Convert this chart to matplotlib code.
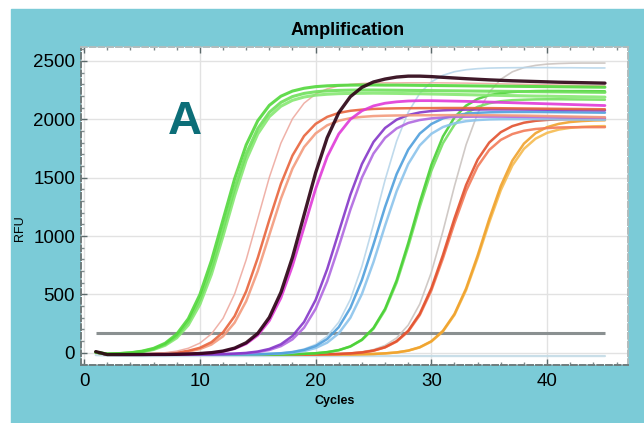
import matplotlib
matplotlib.use("Agg")
import matplotlib.pyplot as plt
from matplotlib.patches import Rectangle
from matplotlib.ticker import MultipleLocator

plt.rcParams['font.family'] = ['Liberation Sans', 'DejaVu Sans']

# cycle numbers
cycles = list(range(1, 46))

# RFU readings per cycle (one list per visible curve)
green1_hi = [5, -11, -7, 0, 14, 38, 82, 160, 292, 499,
             790, 1140, 1490, 1781, 1988, 2120, 2198, 2242, 2266, 2280,
             2287, 2291, 2293, 2294,
             2294, 2293, 2293, 2292, 2291, 2290, 2289, 2288, 2287, 2286, 2285,
             2284, 2283, 2282, 2281, 2280, 2279, 2278, 2277, 2276, 2275]
green1_mid = [5, -11, -7, -1, 11, 33, 73, 144, 266, 456,
              722, 1060, 1408, 1705, 1920, 2060, 2145, 2195, 2222, 2236,
              2244, 2248, 2250, 2251,
              2251, 2250, 2249, 2248, 2247, 2246, 2245, 2244, 2243, 2242, 2241,
              2240, 2239, 2238, 2237, 2236, 2235, 2234, 2233, 2232, 2231]
green1_lo = [5, -11, -8, -3, 8, 28, 64, 128, 238, 415,
             673, 1000, 1346, 1650, 1875, 2023, 2112, 2163, 2191, 2207,
             2215, 2220, 2222, 2223,
             2224, 2223, 2222, 2220, 2219, 2217, 2215, 2213, 2211, 2209, 2207,
             2205, 2203, 2201, 2199, 2198, 2196, 2195, 2193, 2192, 2190]
salmon_hi = [5, -15, -14, -14, -12, -10, -6, 2, 17, 43,
             91, 175, 314, 527, 813, 1139, 1447, 1690, 1857, 1961,
             2021, 2055, 2073, 2083, 2089, 2092,
             2094, 2095, 2096, 2096, 2097, 2097, 2097, 2096, 2096, 2095,
             2094, 2093, 2092, 2091, 2090, 2089, 2088, 2087, 2086]
salmon_lo = [5, -15, -14, -14, -13, -11, -8, -1, 10, 32,
             71, 141, 258, 442, 700, 1010, 1320, 1578, 1762, 1879,
             1949, 1988, 2010, 2021, 2028, 2031,
             2033, 2034, 2035, 2035, 2036, 2036, 2036, 2035, 2035, 2034,
             2033, 2032, 2030, 2028, 2026, 2024, 2022, 2020, 2018]
pink_thin = [5, -15, -15, -13, -11, -7, 1, 14, 39, 83,
             162, 295, 504, 797, 1150, 1503, 1796, 2005, 2138, 2217,
             2261, 2286, 2299, 2307, 2311, 2313,
             2312, 2313, 2313, 2313, 2312, 2311, 2310, 2308, 2306, 2304,
             2302, 2300, 2298, 2296, 2294, 2292, 2290, 2288, 2286]
dark = [10, -15, -15, -15, -15, -14, -14, -13, -10, -6,
        1, 15, 40, 86, 166, 303, 517, 818, 1180, 1542,
        1843, 2057, 2194, 2274, 2320, 2345, 2362, 2370, 2370, 2366,
        2360, 2354, 2348, 2343, 2338, 2334, 2330, 2327, 2324, 2321,
        2318, 2316, 2314, 2312, 2310]
magenta = [5, -15, -15, -15, -15, -14, -14, -13, -11, -7,
           0, 12, 35, 77, 150, 275, 470, 745, 1075, 1405,
           1680, 1875, 2000, 2073, 2115, 2138, 2150, 2157, 2160,
           2160, 2158, 2156, 2154, 2151, 2148, 2145, 2142, 2139, 2136,
           2133, 2130, 2127, 2124, 2121, 2118]
purple_hi = [5, -15, -15, -15, -15, -15, -15, -15, -14, -14,
             -13, -11, -7, -1, 11, 33, 73, 144, 264, 453,
             717, 1035, 1353, 1617, 1806, 1926, 1997, 2037, 2059, 2071, 2077, 2081,
             2083, 2084, 2085, 2085, 2085, 2084, 2083, 2082, 2081, 2080, 2079, 2078, 2077]
purple_lo = [5, -15, -15, -15, -15, -15, -15, -15, -14, -14,
             -13, -12, -9, -4, 6, 24, 57, 115, 215, 376,
             612, 910, 1225, 1501, 1707, 1841, 1922, 1969, 1994, 2008, 2016, 2020,
             2022, 2023, 2023, 2023, 2022, 2021, 2020, 2019, 2018, 2017, 2016, 2015, 2014]
blue_hi = [5, -15, -15, -15, -15, -15, -15, -15, -15, -15, -15, -14, -14,
           -13, -12, -9, -4, 6, 25, 58, 118, 220, 384, 624, 928,
           1249, 1531, 1740, 1878, 1960, 2008, 2034, 2048, 2056, 2060,
           2062, 2063, 2063, 2063, 2062, 2061, 2060, 2059, 2058, 2057]
blue_lo = [5, -15, -15, -15, -15, -15, -15, -15, -15, -15, -15, -14, -14,
           -14, -13, -10, -6, 1, 15, 41, 87, 167, 300, 504, 777,
           1089, 1384, 1617, 1777, 1876, 1934, 1966, 1984, 1994, 1999,
           2001, 2002, 2002, 2002, 2001, 2000, 1999, 1998, 1997, 1996]
lightblue_thin = [5, -15, -15, -15, -15, -15, -15, -15, -15, -15, -15, -14, -14,
                  -13, -11, -8, -1, 10, 32, 71, 142, 262, 457, 741, 1100,
                  1480, 1813, 2061, 2223, 2321, 2377, 2408, 2425, 2434, 2439,
                  2441, 2442, 2443, 2443, 2443, 2442, 2442, 2441, 2440, 2440]
green2_hi = [5, -15, -15, -15, -15, -15, -15, -15, -15, -15, -15, -15, -15, -15, -14, -14,
             -14, -12, -9, -4, 6, 23, 55, 113, 213, 377, 621, 940,
             1290, 1609, 1853, 2017, 2117, 2175, 2207, 2224, 2234, 2239, 2242,
             2243, 2243, 2242, 2242, 2241, 2240]
green2_lo = [5, -15, -15, -15, -15, -15, -15, -15, -15, -15, -15, -15, -15, -15, -14, -14,
             -14, -12, -9, -4, 5, 22, 53, 109, 206, 365, 601, 910,
             1250, 1559, 1795, 1954, 2051, 2107, 2138, 2155, 2164, 2168, 2171,
             2172, 2172, 2171, 2170, 2169, 2168]
red_hi = [5, -15, -15, -15, -15, -15, -15, -15, -15, -15, -15, -15, -15, -15, -15, -15, -15, -14, -14,
          -14, -12, -10, -5, 3, 19, 48, 100, 189, 335, 553, 838,
          1152, 1437, 1655, 1801, 1890, 1942, 1971, 1987, 1995, 2000, 2002, 2003, 2003, 2003]
red_lo = [5, -15, -15, -15, -15, -15, -15, -15, -15, -15, -15, -15, -15, -15, -15, -15, -15, -14, -14,
          -14, -12, -10, -5, 3, 18, 46, 96, 182, 323, 534, 809,
          1111, 1386, 1597, 1738, 1824, 1874, 1902, 1917, 1925, 1930, 1932, 1933, 1933, 1933]
gray_thin = [5, -15, -15, -15, -15, -15, -15, -15, -15, -15, -15, -15, -15, -15, -15, -15, -15, -14, -14,
             -14, -11, -8, -3, 8, 27, 63, 127, 237, 418, 689, 1041,
             1429, 1782, 2052, 2233, 2343, 2407, 2443, 2462, 2473, 2478, 2481, 2482, 2482, 2482]
orange_hi = [5, -15, -15, -15, -15, -15, -15, -15, -15, -15, -15, -15, -15, -15, -15, -15, -15, -15, -15, -15, -14, -14,
             -14, -12, -10, -5, 3, 19, 48, 99, 188, 333, 551, 834,
             1146, 1429, 1647, 1792, 1881, 1933, 1961, 1977, 1985, 1990, 1992]
orange_lo = [5, -15, -15, -15, -15, -15, -15, -15, -15, -15, -15, -15, -15, -15, -15, -15, -15, -15, -15, -15, -14, -14,
             -14, -12, -10, -5, 3, 18, 46, 96, 183, 325, 537, 813,
             1117, 1393, 1605, 1747, 1834, 1884, 1912, 1927, 1935, 1940, 1942]
negative = [-20, -24, -26, -27, -28, -28, -28, -28, -28, -28, -28, -28, -28, -28, -28,
            -28, -28, -28, -28, -28, -28, -28, -28, -28, -28, -28, -28, -28, -28, -28,
            -28, -28, -28, -28, -28, -28, -28, -28, -28, -28, -28, -28, -28, -28, -28]
threshold = 170

# (curve, colour, width) in drawing order, back to front
curves = [
    (negative, '#c3dbe6', 1.6),
    (gray_thin, '#cbc4c0', 1.2),
    (lightblue_thin, '#b8d6ea', 1.2),
    (orange_lo, '#f6bb50', 1.8),
    (orange_hi, '#f0a22c', 1.8),
    (red_lo, '#f27a58', 1.8),
    (red_hi, '#e2512e', 1.8),
    (green2_lo, '#74e060', 1.8),
    (green2_hi, '#48d034', 1.8),
    (blue_lo, '#8cc4ec', 1.8),
    (blue_hi, '#4f9fdc', 1.8),
    (purple_lo, '#b068e0', 1.8),
    (purple_hi, '#8436c8', 1.8),
    (salmon_lo, '#f39a7c', 1.8),
    (salmon_hi, '#e8643c', 1.8),
    (pink_thin, '#eeaaa0', 1.1),
    (magenta, '#e03ad8', 2.0),
    (green1_lo, '#86e872', 2.2),
    (green1_mid, '#6ee05a', 2.2),
    (green1_hi, '#52d83c', 2.2),
    (dark, '#2a0012', 2.4),
]

fig = plt.figure(figsize=(6.44, 4.23), dpi=100, facecolor='white')
fig.patches.append(Rectangle((0.017, 0.0), 0.983, 0.979, transform=fig.transFigure,
                             color='#7bcbd7', zorder=-10))

ax = fig.add_axes([0.1253, 0.137, 0.850, 0.752])
ax.set_facecolor('white')

ax.hlines(threshold, 1, 45, color='#8a9091', lw=2.2, zorder=2)
for vals, col, lw in curves:
    ax.plot(cycles, vals, color=col, lw=lw, alpha=0.9, solid_capstyle='round', zorder=3)

ax.set_xlim(-0.3, 47)
ax.set_ylim(-105, 2620)
ax.xaxis.set_major_locator(MultipleLocator(10))
ax.xaxis.set_minor_locator(MultipleLocator(2))
ax.yaxis.set_major_locator(MultipleLocator(500))
ax.yaxis.set_minor_locator(MultipleLocator(100))
ax.grid(True, which='major', color='#e2e2e2', lw=1.0, zorder=0)
ax.set_axisbelow(True)

for side, sp in ax.spines.items():
    sp.set_color('#6e7c7d' if side in ('left', 'bottom') else '#b0bcbd')
    sp.set_linewidth(1.4)
    sp.set_linestyle((0, (3, 1.5)))

ax.tick_params(which='major', direction='in', length=4, width=1, color='#5c6a6b',
               labelsize=13.5, top=True, right=False)
ax.tick_params(which='minor', direction='in', length=2.5, width=1, color='#7c8a8b', top=True)
ax.tick_params(axis='x', pad=6)
ax.tick_params(axis='y', pad=4)

ax.text(8.7, 1975, 'A', color='#0c6e78', fontsize=34, fontweight='bold',
        ha='center', va='center', zorder=5)

fig.text(0.540, 0.927, 'Amplification', fontsize=13, fontweight='bold',
         ha='center', va='center')
fig.text(0.520, 0.052, 'Cycles', fontsize=9, fontweight='bold', ha='center', va='center')
fig.text(0.031, 0.461, 'RFU', fontsize=9, rotation=90, ha='center', va='center')

fig.savefig('out.png', dpi=100, facecolor=fig.get_facecolor())
